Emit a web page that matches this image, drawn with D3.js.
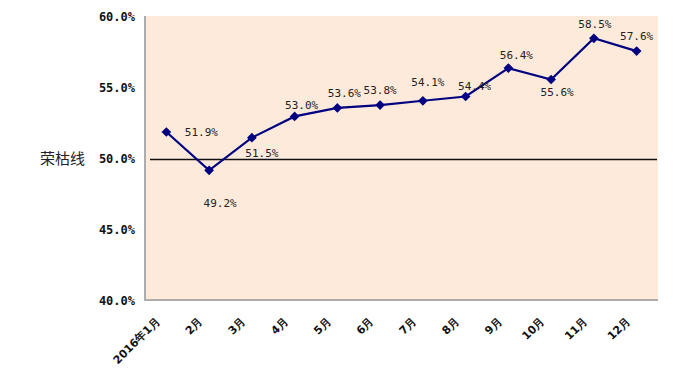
<!DOCTYPE html>
<html>
<head>
<meta charset="utf-8">
<script src="https://cdn.jsdelivr.net/npm/d3@7"></script>
<style>
  body { margin: 0; background: #fff; }
  svg { display: block; }
</style>
</head>
<body>
<svg width="700" height="368"></svg>
<script>
// chart data
var months = ["2016年1月", "2月", "3月", "4月", "5月", "6月", "7月", "8月", "9月", "10月", "11月", "12月"];
var values = [51.9, 49.2, 51.5, 53.0, 53.6, 53.8, 54.1, 54.4, 56.4, 55.6, 58.5, 57.6];
var yTicks = [40, 45, 50, 55, 60];
var lineLevel = 50;
var lineLabel = "荣枯线";

// where each value label sits relative to its point
var labelOffsets = [[35, 0], [11, 33], [10, 15], [7, -11], [7, -15], [0, -15],
  [5, -19], [9, -10], [8, -13], [6, 13], [1, -14], [0, -15]];

var svg = d3.select("svg");
var L = 145, R = 658, T = 16, B = 300;

var x = d3.scaleBand().domain(months).range([L, R]);
var y = d3.scaleLinear().domain([40, 60]).range([B + 1, T + 1]);
var cx = function(d, i) { return x(months[i]) + x.bandwidth() / 2; };

// plot background
svg.append("rect")
  .attr("x", L).attr("y", T)
  .attr("width", R - L).attr("height", B - T)
  .attr("fill", "#fdeadb");

// axes lines
svg.append("line")
  .attr("x1", L).attr("x2", L).attr("y1", T).attr("y2", B + 1)
  .attr("stroke", "#adadad").attr("stroke-width", 2);
svg.append("line")
  .attr("x1", L).attr("x2", R).attr("y1", B).attr("y2", B)
  .attr("stroke", "#adadad").attr("stroke-width", 2);

// y tick labels
var fmt = function(v) { return v.toFixed(1) + "%"; };
svg.selectAll(".ytick").data(yTicks).enter().append("text")
  .attr("x", 135).attr("y", function(d) { return y(d); })
  .attr("dy", "0.35em")
  .attr("text-anchor", "end")
  .attr("font-family", "DejaVu Sans Mono, monospace")
  .attr("font-size", 12).attr("font-weight", "bold")
  .attr("fill", "#111")
  .text(fmt);

// x tick labels, rotated
svg.selectAll(".xtick").data(months).enter().append("text")
  .attr("transform", function(d, i) {
    return "translate(" + (cx(d, i) - 6) + "," + (B + 22) + ") rotate(-45)";
  })
  .attr("text-anchor", "end")
  .attr("font-family", "DejaVu Sans, sans-serif")
  .attr("font-size", 11).attr("font-weight", "bold")
  .attr("fill", "#111")
  .text(function(d) { return d; });

// 50% reference line
svg.append("line")
  .attr("x1", L + 5).attr("x2", R - 1)
  .attr("y1", y(lineLevel) + 0.5).attr("y2", y(lineLevel) + 0.5)
  .attr("stroke", "#111").attr("stroke-width", 1.3);
svg.append("text")
  .attr("x", 85).attr("y", y(lineLevel))
  .attr("dy", "0.35em")
  .attr("text-anchor", "end")
  .attr("font-family", "Noto Sans CJK SC, sans-serif")
  .attr("font-size", 15)
  .attr("fill", "#222")
  .text(lineLabel);

// series line
var line = d3.line()
  .x(function(d, i) { return cx(d, i); })
  .y(function(d) { return y(d); });
svg.append("path")
  .datum(values)
  .attr("d", line)
  .attr("fill", "none")
  .attr("stroke", "#000080")
  .attr("stroke-width", 2.2);

// diamond markers
var diamond = d3.symbol().type(d3.symbolDiamond2).size(60);
svg.selectAll(".pt").data(values).enter().append("path")
  .attr("d", diamond)
  .attr("transform", function(d, i) { return "translate(" + cx(d, i) + "," + y(d) + ")"; })
  .attr("fill", "#000080");

// value labels
svg.selectAll(".vl").data(values).enter().append("text")
  .attr("x", function(d, i) { return cx(d, i) + labelOffsets[i][0]; })
  .attr("y", function(d, i) { return y(d) + labelOffsets[i][1]; })
  .attr("dy", "0.35em")
  .attr("text-anchor", "middle")
  .attr("font-family", "DejaVu Sans Mono, monospace")
  .attr("font-size", 11)
  .attr("fill", "#222")
  .text(fmt);
</script>
</body>
</html>
